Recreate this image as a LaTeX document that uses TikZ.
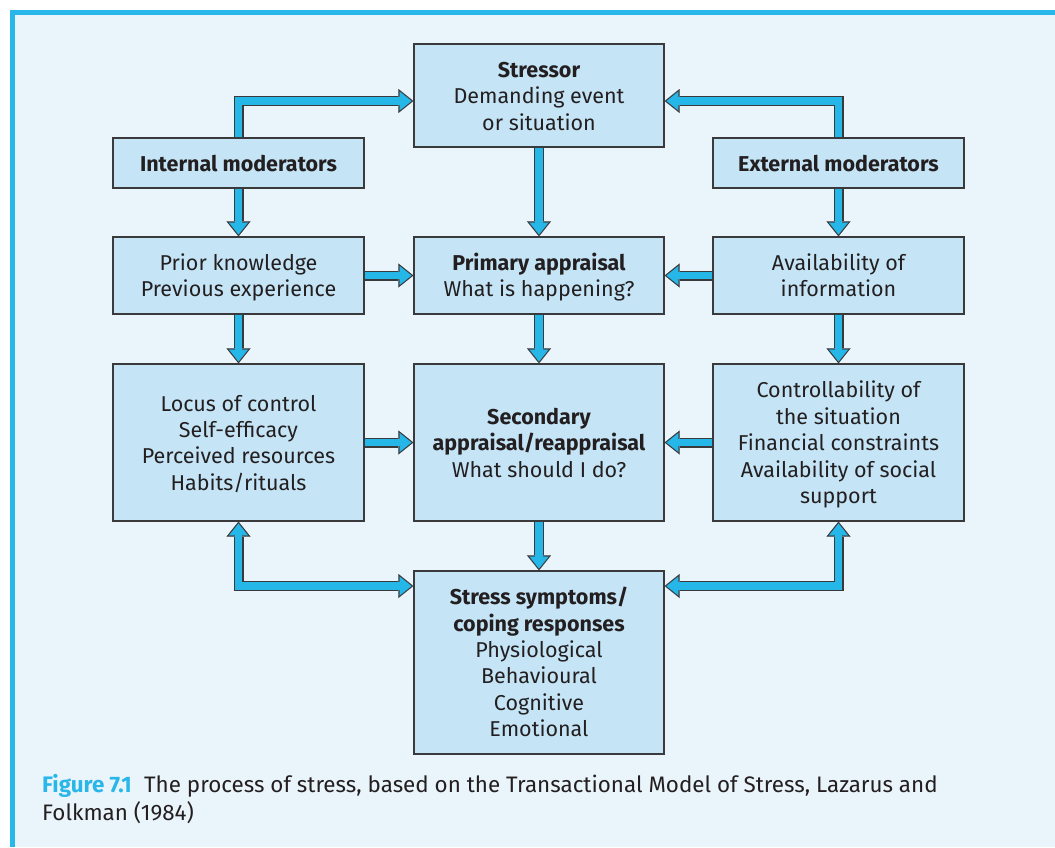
\documentclass[tikz,border=0pt]{standalone}
\usepackage{fontspec}
\setmainfont{Fira Sans}
\usetikzlibrary{arrows.meta}
\definecolor{pagebg}{HTML}{EAF4FB}
\definecolor{framecyan}{HTML}{29B6E8}
\definecolor{arrowcyan}{HTML}{26B7E9}
\definecolor{boxfill}{HTML}{C5E5F7}
\definecolor{ink}{HTML}{231F20}
\definecolor{edge}{HTML}{3A3A3C}
\pgfdeclarelayer{bg}
\pgfdeclarelayer{links}
\pgfsetlayers{bg,links,main}
% invisible strut that gives every text block the same top and bottom margin
\newcommand\ls{\rule[-5pt]{0pt}{26.4pt}}
% fat two-tone arrows: a dark silhouette with a cyan body laid on top
\tikzset{
  outertip/.tip={Triangle[width=24pt,length=15pt,line width=0.01pt]},
  innertip/.tip={Triangle[width=19pt,length=11.9pt,line width=0.01pt]},
  fatout/.style={draw=edge, line width=10pt, line join=miter, -outertip},
  fatin/.style={draw=arrowcyan, line width=7.4pt, line join=miter, shorten >=1.9pt, -innertip},
  fatoutboth/.style={draw=edge, line width=10pt, line join=miter, outertip-outertip},
  fatinboth/.style={draw=arrowcyan, line width=7.4pt, line join=miter, shorten >=1.9pt, shorten <=1.9pt, innertip-innertip},
  box/.style={draw=edge, line width=1.3pt, fill=boxfill, text=ink, align=center,
    inner sep=0pt, minimum width=250pt, font=\fontsize{21.5}{26.4}\selectfont},
  captext/.style={text=ink, inner sep=0pt, anchor=base west, font=\fontsize{22.4}{27}\selectfont},
}
\newcommand\fatlink[1]{%
  \begin{pgfonlayer}{links}\draw[fatout] #1; \draw[fatin] #1;\end{pgfonlayer}}
\newcommand\fatlinkboth[1]{%
  \begin{pgfonlayer}{links}\draw[fatoutboth] #1; \draw[fatinboth] #1;\end{pgfonlayer}}
\begin{document}
\begin{tikzpicture}[x=1pt,y=-1pt]
\useasboundingbox (0,0) rectangle (1055,847);
\begin{pgfonlayer}{bg}
  \fill[white] (0,0) rectangle (1055,847);
  \fill[pagebg] (10,10) rectangle (1055,847);
  \draw[framecyan, line width=5pt] (12.5,847) -- (12.5,12.5) -- (1055,12.5);
\end{pgfonlayer}

% boxes
\node[box, minimum height=103pt] (stressor) at (539,95.5)
  {\ls\textbf{Stressor}\\Demanding event\\or situation\ls};
\node[box, minimum height=50pt, minimum width=251pt] (internal) at (238.5,163)
  {\ls\textbf{Internal moderators}\ls};
\node[box, minimum height=50pt, minimum width=251pt] (external) at (838.5,163)
  {\ls\textbf{External moderators}\ls};
\node[box, minimum height=77pt, minimum width=251pt] (prior) at (238.5,275.5)
  {\ls Prior knowledge\\Previous experience\ls};
\node[box, minimum height=77pt] (primary) at (539,275.5)
  {\ls\textbf{Primary appraisal}\\What is happening?\ls};
\node[box, minimum height=77pt, minimum width=251pt] (avail) at (838.5,275.5)
  {\ls Availability of\\information\ls};
\node[box, minimum height=157pt, minimum width=251pt] (locus) at (238.5,442.5)
  {\ls Locus of control\\Self-efficacy\\Perceived resources\\Habits/rituals\ls};
\node[box, minimum height=157pt] (secondary) at (539,442.5)
  {\ls\textbf{Secondary}\\\textbf{appraisal/reappraisal}\\What should I do?\ls};
\node[box, minimum height=157pt, minimum width=251pt] (control) at (838.5,442.5)
  {\ls Controllability of\\the situation\\Financial constraints\\Availability of social\\support\ls};
\node[box, minimum height=183pt] (stress) at (539,662.5)
  {\ls\textbf{Stress symptoms/}\\\textbf{coping responses}\\Physiological\\Behavioural\\Cognitive\\Emotional\ls};

% levels of the elbow connectors
\coordinate (toprail) at (0,101);
\coordinate (lowrail) at (0,586);

% connectors
\fatlink{(internal.north) |- (stressor.west |- toprail)}
\fatlink{(external.north) |- (stressor.east |- toprail)}
\fatlink{(stressor.south) -- (primary.north)}
\fatlink{(internal.south) -- (prior.north)}
\fatlink{(external.south) -- (avail.north)}
\fatlink{(prior.east) -- (primary.west)}
\fatlink{(avail.west) -- (primary.east)}
\fatlink{(prior.south) -- (locus.north)}
\fatlink{(primary.south) -- (secondary.north)}
\fatlink{(avail.south) -- (control.north)}
\fatlink{(locus.east) -- (secondary.west)}
\fatlink{(control.west) -- (secondary.east)}
\fatlink{(secondary.south) -- (stress.north)}
\fatlinkboth{(locus.south) |- (stress.west |- lowrail)}
\fatlinkboth{(control.south) |- (stress.east |- lowrail)}

% caption
\node[captext] (cap1) at (42,792)
  {\textcolor{framecyan}{\textbf{Figure 7.1}}\hspace{0.55em}The process of stress, based on the Transactional Model of Stress, Lazarus and};
\node[captext] (cap2) at (42,820) {Folkman (1984)};
\end{tikzpicture}
\end{document}
